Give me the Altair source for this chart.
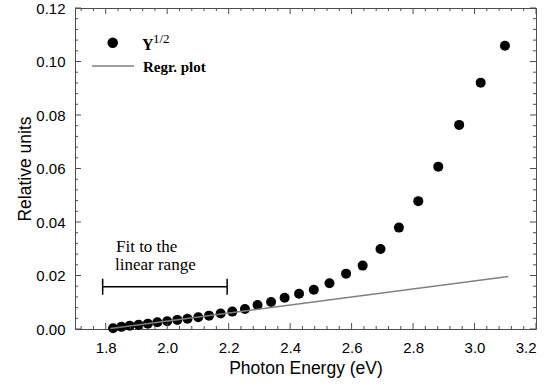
import altair as alt
import pandas as pd

# ---- data ----
energy = [1.824, 1.851, 1.878, 1.907, 1.937, 1.968, 2.000, 2.033, 2.066, 2.101,
          2.136, 2.174, 2.212, 2.253, 2.294, 2.338, 2.382, 2.429, 2.477, 2.528,
          2.582, 2.636, 2.694, 2.754, 2.817, 2.882, 2.950, 3.020, 3.099]
y_half = [0.0003, 0.0008, 0.0012, 0.0016, 0.0020, 0.0025, 0.0029, 0.0034, 0.0038, 0.0044,
          0.0050, 0.0058, 0.0065, 0.0075, 0.0090, 0.0101, 0.0117, 0.0132, 0.0147, 0.0171,
          0.0207, 0.0237, 0.0299, 0.0379, 0.0478, 0.0607, 0.0763, 0.0921, 0.1059]

reg_x = [1.815, 3.11]
reg_y = [0.0002, 0.0196]

fit_x = [1.79, 2.195]
fit_y = [0.0158, 0.0158]
cap_half = 0.003

x_major = [1.8, 2.0, 2.2, 2.4, 2.6, 2.8, 3.0, 3.2]
x_minor = [1.72, 1.76, 1.84, 1.88, 1.92, 1.96, 2.04, 2.08, 2.12, 2.16, 2.24, 2.28, 2.32, 2.36,
           2.44, 2.48, 2.52, 2.56, 2.64, 2.68, 2.72, 2.76, 2.84, 2.88, 2.92, 2.96,
           3.04, 3.08, 3.12, 3.16]
y_major = [0.0, 0.02, 0.04, 0.06, 0.08, 0.10, 0.12]
y_minor = [0.004, 0.008, 0.012, 0.016, 0.024, 0.028, 0.032, 0.036, 0.044, 0.048, 0.052, 0.056,
           0.064, 0.068, 0.072, 0.076, 0.084, 0.088, 0.092, 0.096, 0.104, 0.108, 0.112, 0.116]

W, H = 461, 321
FRAME = "#4d4d4d"
SANS = "Liberation Sans"
SERIF = "Liberation Serif"

xscale = alt.Scale(domain=[1.7, 3.2], nice=False, zero=False)
yscale = alt.Scale(domain=[0, 0.12], nice=False, zero=False)

pts = pd.DataFrame({"E": energy, "Y": y_half})
reg = pd.DataFrame({"E": reg_x, "Y": reg_y})
fit = pd.DataFrame({"E": fit_x, "Y": fit_y})
caps = pd.DataFrame({"E": fit_x, "Y": [v - cap_half for v in fit_y], "Y2": [v + cap_half for v in fit_y]})

xaxis = alt.Axis(values=x_major, format=".1f", ticks=False, domain=False, grid=False,
                 labelFont=SANS, labelFontSize=15, labelColor="black", labelPadding=11,
                 title="Photon Energy (eV)", titleFont=SANS, titleFontSize=17.5,
                 titleFontWeight="normal", titleColor="black", titlePadding=4)
yaxis = alt.Axis(values=y_major, format=".2f", ticks=False, domain=False, grid=False,
                 labelFont=SANS, labelFontSize=15, labelColor="black", labelPadding=10,
                 title="Relative units", titleFont=SANS, titleFontSize=17.5,
                 titleFontWeight="normal", titleColor="black", titlePadding=1)

points = alt.Chart(pts).mark_circle(size=100, color="black", opacity=1).encode(
    x=alt.X("E:Q", scale=xscale, axis=xaxis),
    y=alt.Y("Y:Q", scale=yscale, axis=yaxis),
)
line = alt.Chart(reg).mark_line(color="#808080", strokeWidth=1.5).encode(
    x=alt.X("E:Q", scale=xscale), y=alt.Y("Y:Q", scale=yscale))
bracket = alt.Chart(fit).mark_line(color="black", strokeWidth=1.5).encode(
    x=alt.X("E:Q", scale=xscale), y=alt.Y("Y:Q", scale=yscale))
bracket_caps = alt.Chart(caps).mark_rule(color="black", strokeWidth=1.5).encode(
    x=alt.X("E:Q", scale=xscale), y=alt.Y("Y:Q", scale=yscale), y2="Y2:Q")

def xt(vals, L, top):
    df = pd.DataFrame({"E": vals})
    y0, y1 = (0, L) if top else (H, H - L)
    return alt.Chart(df).mark_rule(color=FRAME, strokeWidth=1).encode(
        x=alt.X("E:Q", scale=xscale), y=alt.value(y0), y2=alt.value(y1))

def yt(vals, L, right):
    df = pd.DataFrame({"Y": vals})
    x0, x1 = (W, W - L) if right else (0, L)
    return alt.Chart(df).mark_rule(color=FRAME, strokeWidth=1).encode(
        y=alt.Y("Y:Q", scale=yscale), x=alt.value(x0), x2=alt.value(x1))

ticks = [xt(x_major, 6, False), xt(x_major, 6, True), xt(x_minor, 3, False), xt(x_minor, 3, True),
         yt(y_major, 6, False), yt(y_major, 6, True), yt(y_minor, 3, False), yt(y_minor, 3, True)]

anchor = pd.DataFrame({"a": [0]})
fit_text1 = alt.Chart(anchor).mark_text(text="Fit to the", font=SERIF, fontSize=17, align="left",
                                         baseline="alphabetic", color="black").encode(
    x=alt.value(41), y=alt.value(243.5))
fit_text2 = alt.Chart(anchor).mark_text(text="linear range", font=SERIF, fontSize=17, align="left",
                                         baseline="alphabetic", color="black").encode(
    x=alt.value(40), y=alt.value(262))
leg_dot = alt.Chart(anchor).mark_circle(size=110, color="black", opacity=1).encode(
    x=alt.value(37.7), y=alt.value(34.7))
leg_Y = alt.Chart(anchor).mark_text(text="Y", font=SERIF, fontSize=16, fontWeight="bold", align="left",
                                     baseline="alphabetic", color="black").encode(
    x=alt.value(67), y=alt.value(41.5))
leg_sup = alt.Chart(anchor).mark_text(text="1/2", font=SERIF, fontSize=13, align="left",
                                       baseline="alphabetic", color="black").encode(
    x=alt.value(78), y=alt.value(34.5))
leg_line = alt.Chart(anchor).mark_rule(color="#808080", strokeWidth=1.5).encode(
    x=alt.value(17), x2=alt.value(59), y=alt.value(58), y2=alt.value(58))
leg_reg = alt.Chart(anchor).mark_text(text="Regr. plot", font=SERIF, fontSize=15, fontWeight="bold",
                                       align="left", baseline="alphabetic", color="black").encode(
    x=alt.value(68), y=alt.value(64.3))

chart = alt.layer(points, line, bracket, bracket_caps, *ticks,
                  fit_text1, fit_text2, leg_dot, leg_Y, leg_sup, leg_line, leg_reg).properties(
    width=W, height=H,
    autosize=alt.AutoSizeParams(type="none"),
    padding={"left": 75, "top": 8, "right": 11, "bottom": 61},
    background="white",
).configure_view(stroke=FRAME, strokeWidth=1)

chart.save("out.html", embed_options={"renderer": "svg", "actions": False})
